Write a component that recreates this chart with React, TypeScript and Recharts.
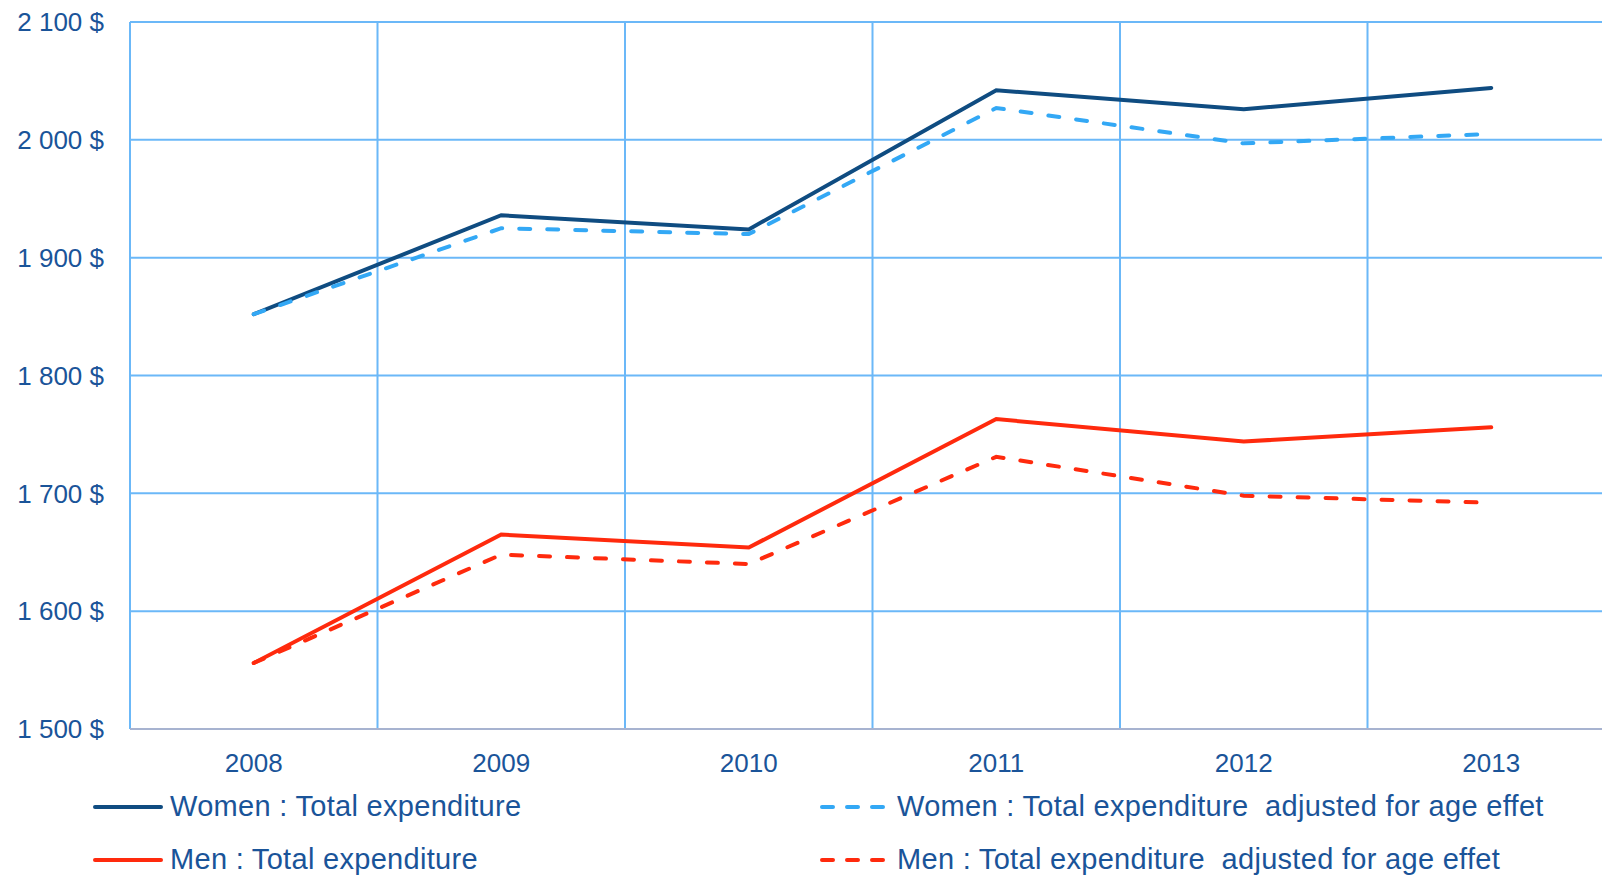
import React from 'react'
import { LineChart, Line, XAxis, YAxis, CartesianGrid, Legend } from 'recharts'

const years = ['2008', '2009', '2010', '2011', '2012', '2013']
const womenTotal = [1852, 1936, 1924, 2042, 2026, 2044]
const womenAdjusted = [1852, 1925, 1920, 2027, 1997, 2005]
const menTotal = [1556, 1665, 1654, 1763, 1744, 1756]
const menAdjusted = [1556, 1648, 1640, 1731, 1698, 1692]
const yTicks = [1500, 1600, 1700, 1800, 1900, 2000, 2100]

const series = [
  { key: 'womenTotal', name: 'Women : Total expenditure', color: '#0F4C81', dashed: false },
  { key: 'womenAdjusted', name: 'Women : Total expenditure  adjusted for age effet', color: '#33A8F5', dashed: true },
  { key: 'menTotal', name: 'Men : Total expenditure', color: '#FF2A0D', dashed: false },
  { key: 'menAdjusted', name: 'Men : Total expenditure  adjusted for age effet', color: '#FF2A0D', dashed: true },
]

const data = years.map((year, i) => ({
  year,
  womenTotal: womenTotal[i],
  womenAdjusted: womenAdjusted[i],
  menTotal: menTotal[i],
  menAdjusted: menAdjusted[i],
}))

const TEXT = '#1A5499'
const GRID = '#6BB8F8'
const FONT = '"Liberation Sans", Arial, sans-serif'

const formatDollar = (v: number) => {
  const thousands = Math.floor(v / 1000)
  const rest = String(v % 1000).padStart(3, '0')
  return `${thousands} ${rest} $`
}

const renderLegend = () => (
  <div
    style={{
      display: 'grid',
      gridTemplateColumns: '727px 760px',
      paddingLeft: 93,
      fontFamily: FONT,
      fontSize: 29,
      letterSpacing: 0.3,
      color: TEXT,
    }}
  >
    {series.map((s) => (
      <div key={s.key} style={{ display: 'flex', alignItems: 'center', height: 53 }}>
        <svg width={77} height={10}>
          <line
            x1={2}
            y1={5}
            x2={68}
            y2={5}
            stroke={s.color}
            strokeWidth={4}
            strokeLinecap="round"
            strokeDasharray={s.dashed ? '11 14' : undefined}
          />
        </svg>
        <span style={{ whiteSpace: 'pre' }}>{s.name}</span>
      </div>
    ))}
  </div>
)

export default function App() {
  return (
    <div style={{ position: 'fixed', left: 0, top: 0, width: 1602, height: 875, overflow: 'hidden', background: '#fff' }}>
      <LineChart width={1616} height={875} data={data} margin={{ top: 22, right: 1, left: 0, bottom: 0 }}>
        <CartesianGrid
          stroke={GRID}
          strokeWidth={2}
          verticalCoordinatesGenerator={({ offset }: any) =>
            years.map((_, i) => offset.left + (i * offset.width) / years.length).concat(offset.left + offset.width)
          }
        />
        <XAxis
          dataKey="year"
          scale="band"
          axisLine={{ stroke: '#A7B3D0', strokeWidth: 2 }}
          tickLine={false}
          tickSize={0}
          tickMargin={25}
          height={51}
          tick={{ fontSize: 26, fill: TEXT, fontFamily: FONT }}
        />
        <YAxis
          domain={[1500, 2100]}
          ticks={yTicks}
          tickFormatter={formatDollar}
          axisLine={false}
          tickLine={false}
          tickSize={0}
          tickMargin={26}
          width={130}
          interval={0}
          tick={{ fontSize: 26, fill: TEXT, fontFamily: FONT }}
        />
        <Legend verticalAlign="bottom" align="left" content={renderLegend} wrapperStyle={{ height: 95 }} />
        {series.map((s) => (
          <Line
            key={s.key}
            type="linear"
            dataKey={s.key}
            name={s.name}
            stroke={s.color}
            strokeWidth={4}
            strokeLinecap="round"
            strokeDasharray={s.dashed ? '11 17' : undefined}
            dot={false}
            activeDot={false}
            isAnimationActive={false}
          />
        ))}
      </LineChart>
    </div>
  )
}
